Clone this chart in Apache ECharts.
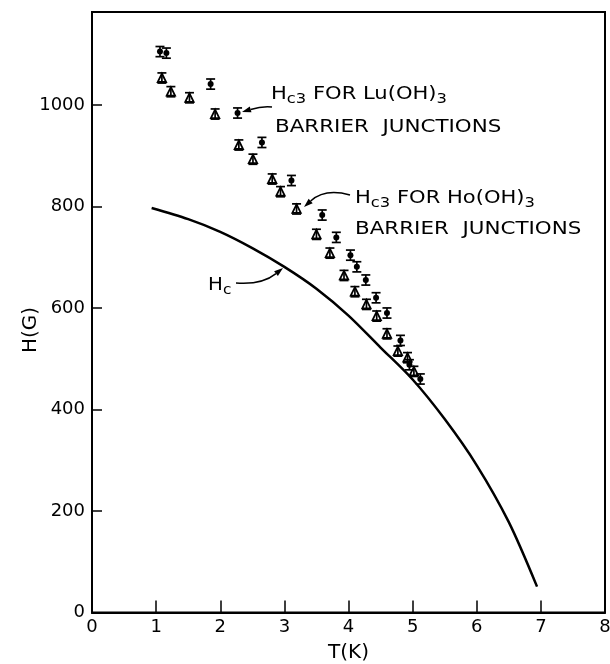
<!DOCTYPE html>
<html>
<head>
<meta charset="utf-8">
<script src="https://cdn.jsdelivr.net/npm/echarts@6/dist/echarts.min.js"></script>
<style>html,body{margin:0;padding:0;background:#fff;overflow:hidden;}#c{width:610px;height:664px;}</style>
</head>
<body>
<div id="c"></div>
<script>
// Hc3 for Lu(OH)3 barrier junctions (filled circles)
const luT = [1.06, 1.16, 1.85, 2.27, 2.65, 3.11, 3.59, 3.81, 4.03, 4.13, 4.27, 4.43, 4.60, 4.81, 4.95, 5.12];
const luH = [1105, 1102, 1041, 984, 926, 851, 783, 739, 704, 681, 655, 620, 590, 536, 488, 460];
// Hc3 for Ho(OH)3 barrier junctions (triangles)
const hoT = [1.09, 1.23, 1.52, 1.92, 2.29, 2.51, 2.81, 2.94, 3.19, 3.50, 3.71, 3.93, 4.10, 4.28, 4.44, 4.60, 4.77, 4.92, 5.02];
const hoH = [1053, 1026, 1014, 982, 921, 893, 854, 829, 795, 745, 708, 664, 632, 607, 584, 549, 515, 502, 475];
const errLu = 10;
const errHo = 10;
// Hc curve
const hcT = [0.93, 1.5, 2.0, 2.5, 3.0, 3.5, 4.0, 4.5, 5.0, 5.5, 6.0, 6.5, 6.94];
const hcH = [797, 775, 750, 718, 681, 638, 585, 522, 459, 381, 290, 178, 51];

const xTicks = [0, 1, 2, 3, 4, 5, 6, 7, 8];
const yTicks = [0, 200, 400, 600, 800, 1000];

const FONT = 'DejaVu Sans';

function makeRender(kind, err) {
  return function (params, api) {
    const x = api.value(0), y = api.value(1);
    const p = api.coord([x, y]);
    const t = api.coord([x, y + err])[1];
    const b = api.coord([x, y - err])[1];
    const st = { stroke: '#000', lineWidth: 1.7 };
    const ch = [];
    if (kind === 'circle') {
      ch.push({ type: 'circle', shape: { cx: p[0], cy: p[1], r: 3 }, style: { fill: '#000' } });
    } else {
      ch.push({ type: 'polygon', shape: { points: [[p[0], p[1] - 4.5], [p[0] + 4.2, p[1] + 4], [p[0] - 4.2, p[1] + 4]] }, style: { fill: null, stroke: '#000', lineWidth: 1.8 } });
    }
    ch.push(
      { type: 'line', shape: { x1: p[0], y1: t, x2: p[0], y2: b }, style: st },
      { type: 'line', shape: { x1: p[0] - 4.5, y1: t, x2: p[0] + 4.5, y2: t }, style: st },
      { type: 'line', shape: { x1: p[0] - 4.5, y1: b, x2: p[0] + 4.5, y2: b }, style: st }
    );
    return { type: 'group', children: ch };
  };
}

const chart = echarts.init(document.getElementById('c'));
const sub = { fontSize: 14, fontFamily: FONT, fill: '#000', padding: [10, 0, 0, 0] };
const big = { fontSize: 18, fontFamily: FONT, fill: '#000' };

function arrow(x1, y1, cx, cy, x2, y2) {
  const ang = Math.atan2(y2 - cy, x2 - cx);
  const L = 9, W = 3;
  const bx = x2 - L * Math.cos(ang), by = y2 - L * Math.sin(ang);
  const px = -Math.sin(ang) * W, py = Math.cos(ang) * W;
  return [
    { type: 'bezierCurve', shape: { x1: x1, y1: y1, cpx1: cx, cpy1: cy, x2: bx, y2: by }, style: { stroke: '#000', lineWidth: 1.5, fill: null } },
    { type: 'polygon', shape: { points: [[x2, y2], [bx + px, by + py], [bx - px, by - py]] }, style: { fill: '#000' } }
  ];
}

chart.setOption({
  animation: false,
  backgroundColor: '#fff',
  grid: { left: 92, right: 5, top: 12, bottom: 51.5, show: true, borderColor: '#000', borderWidth: 2,
    containLabel: false, outerBoundsMode: 'none' },
  xAxis: {
    type: 'value', min: 0, max: 8, interval: 1,
    name: 'T(K)', nameLocation: 'middle', nameGap: 30,
    nameTextStyle: { fontSize: 20, fontFamily: FONT, color: '#000' },
    axisLine: { lineStyle: { color: '#000', width: 2 } },
    axisTick: { inside: true, length: 12, lineStyle: { color: '#000', width: 1.5 } },
    axisLabel: { fontSize: 18, fontFamily: FONT, color: '#000', margin: 6,
      formatter: v => xTicks.indexOf(v) >= 0 ? String(v) : '' },
    splitLine: { show: false }
  },
  yAxis: {
    type: 'value', min: 0, max: 1183, interval: 200,
    axisLine: { lineStyle: { color: '#000', width: 2 } },
    axisTick: { inside: true, length: 10, lineStyle: { color: '#000', width: 1.5 } },
    axisLabel: { fontSize: 18, fontFamily: FONT, color: '#000', margin: 7,
      formatter: v => yTicks.indexOf(v) >= 0 ? String(v) : '' },
    splitLine: { show: false }
  },
  series: [
    { type: 'line', data: hcT.map((t, i) => [t, hcH[i]]), smooth: 0.3, symbol: 'none',
      lineStyle: { color: '#000', width: 2.5 } },
    { type: 'custom', data: luT.map((t, i) => [t, luH[i]]), renderItem: makeRender('circle', errLu) },
    { type: 'custom', data: hoT.map((t, i) => [t, hoH[i]]), renderItem: makeRender('tri', errHo) }
  ],
  graphic: [
    { type: 'text', x: 31, y: 330, rotation: Math.PI / 2, style: { text: 'H(G)', font: '20px ' + FONT, fill: '#000', align: 'center', verticalAlign: 'middle' } },
    { type: 'text', x: 271, y: 82, scaleX: 1.17, style: { text: '{b|H}{s|c3}{b| FOR Lu(OH)}{s|3}', rich: { b: big, s: sub } } },
    { type: 'text', x: 275, y: 118, scaleX: 1.19, style: { text: 'BARRIER  JUNCTIONS', font: '18px ' + FONT, fill: '#000' } },
    { type: 'text', x: 355, y: 186, scaleX: 1.17, style: { text: '{b|H}{s|c3}{b| FOR Ho(OH)}{s|3}', rich: { b: big, s: sub } } },
    { type: 'text', x: 355, y: 220, scaleX: 1.19, style: { text: 'BARRIER  JUNCTIONS', font: '18px ' + FONT, fill: '#000' } },
    { type: 'text', x: 208, y: 273, scaleX: 1.1, style: { text: '{b|H}{s|c}', rich: { b: big, s: sub } } },
    { type: 'group', children: arrow(272, 107, 262, 106, 242, 112) },
    { type: 'group', children: arrow(350, 195, 325, 188, 304, 207) },
    { type: 'group', children: arrow(236, 283, 262, 285, 283, 268) }
  ]
});
</script>
</body>
</html>
